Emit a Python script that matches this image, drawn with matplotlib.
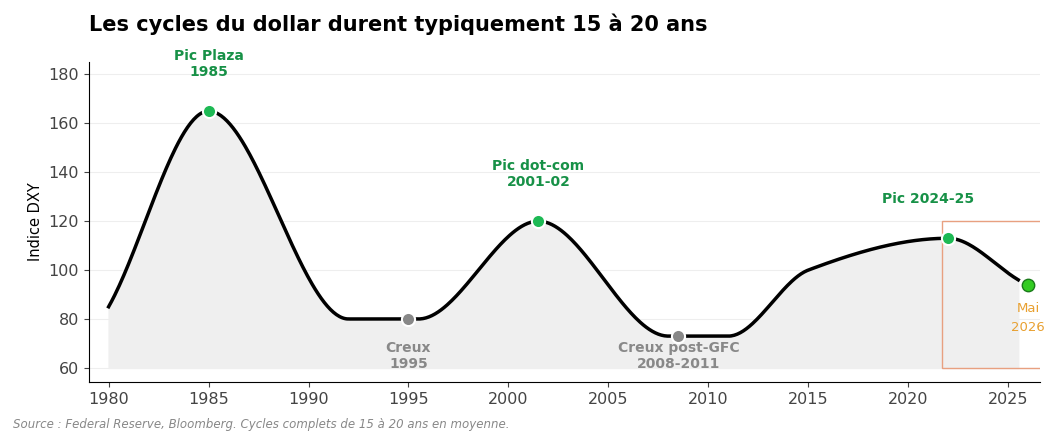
import numpy as np
import matplotlib
matplotlib.use("Agg")
import matplotlib.pyplot as plt
from matplotlib.patches import Rectangle

years = [1980, 1985, 1992, 1995.5, 2001.5, 2008, 2011, 2015, 2022, 2025.5]
dxy = [85, 165, 80, 80, 120, 73, 73, 100, 113, 96]
mk_x = [1985, 1995, 2001.5, 2008.5, 2022]
mk_y = [165, 80, 120, 73, 113]
mk_c = ['#1db954', '#888888', '#1db954', '#888888', '#1db954']

def pchip(x, y, xs):
    x = np.asarray(x, float); y = np.asarray(y, float)
    h = np.diff(x); d = np.diff(y) / h
    m = np.zeros_like(y)
    for i in range(1, len(x) - 1):
        if d[i-1] * d[i] > 0:
            w1 = 2*h[i] + h[i-1]; w2 = h[i] + 2*h[i-1]
            m[i] = (w1 + w2) / (w1/d[i-1] + w2/d[i])
    m[0] = d[0]*0.9; m[-1] = d[-1]
    idx = np.clip(np.searchsorted(x, xs) - 1, 0, len(x) - 2)
    t = (xs - x[idx]) / h[idx]
    h00 = 2*t**3 - 3*t**2 + 1; h10 = t**3 - 2*t**2 + t
    h01 = -2*t**3 + 3*t**2; h11 = t**3 - t**2
    return h00*y[idx] + h10*h[idx]*m[idx] + h01*y[idx+1] + h11*h[idx]*m[idx+1]

xs = np.linspace(1980, 2025.5, 600)
ys = pchip(years, dxy, xs)

fig, ax = plt.subplots(figsize=(10.55, 4.44), dpi=100)
fig.subplots_adjust(left=0.084, right=0.986, top=0.86, bottom=0.14)
ax.fill_between(xs, 60, ys, color='#efefef')
ax.plot(xs, ys, color='black', lw=2.5)
for x, y, c in zip(mk_x, mk_y, mk_c):
    ax.scatter(x, y, s=90, color=c, edgecolor='white', lw=1.5, zorder=5)
ax.scatter(2026, 94, s=80, color='#33cc22', edgecolor='#1a7a1a', lw=1, zorder=5)
ax.add_patch(Rectangle((2021.7, 60), 5, 60, fill=False, edgecolor='#e8a080', lw=1))

g = '#179147'; gr = '#888888'
kw = dict(ha='center', fontweight='bold', fontsize=10)
ax.text(1985, 178, 'Pic Plaza\n1985', color=g, va='bottom', **kw)
ax.text(2001.5, 133, 'Pic dot-com\n2001-02', color=g, va='bottom', **kw)
ax.text(2021, 126, 'Pic 2024-25', color=g, va='bottom', **kw)
ax.text(1995, 71, 'Creux\n1995', color=gr, va='top', **kw)
ax.text(2008.5, 65, 'Creux post-GFC\n2008-2011', color=gr, va='center', **kw)
ax.text(2026, 87, 'Mai\n2026', color='#e8a030', ha='center', va='top', fontsize=9.5, linespacing=1.6)

ax.set_xlim(1979, 2026.6)
ax.set_ylim(54.3, 185)
ax.set_xticks(range(1980, 2030, 5))
ax.set_yticks(range(60, 181, 20))
ax.tick_params(labelsize=11.5, colors='#444444')
ax.grid(axis='y', color='#eeeeee', lw=0.8)
ax.set_axisbelow(True)
for s in ['top', 'right']:
    ax.spines[s].set_visible(False)
ax.set_ylabel('Indice DXY', fontsize=10.5)
fig.text(0.084, 0.93, 'Les cycles du dollar durent typiquement 15 à 20 ans', fontsize=15, fontweight='bold')
fig.text(0.012, 0.035, 'Source : Federal Reserve, Bloomberg. Cycles complets de 15 à 20 ans en moyenne.',
         fontsize=8.5, style='italic', color='#888888')
fig.savefig('out.png')
